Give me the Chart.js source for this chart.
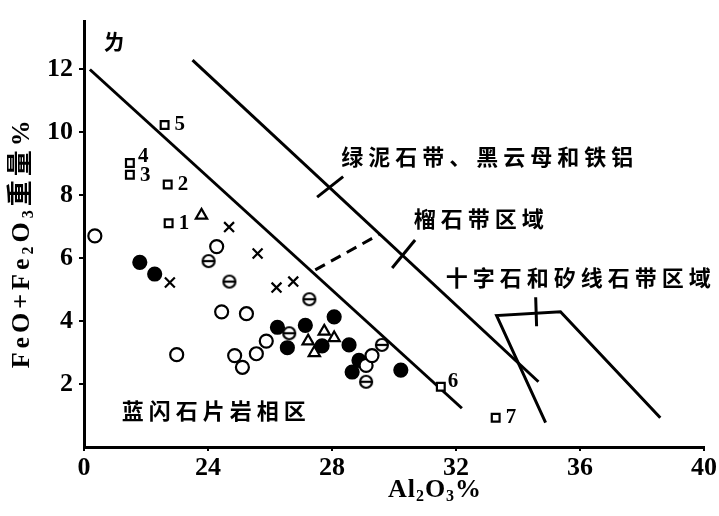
<!DOCTYPE html>
<html>
<head>
<meta charset="utf-8">
<script src="https://cdn.jsdelivr.net/npm/chart.js@4.4.1/dist/chart.umd.min.js"></script>
<style>
  html, body { margin: 0; padding: 0; background: #fff; }
  #wrap { width: 719px; height: 516px; }
</style>
</head>
<body>
<div id="wrap"><canvas id="chart" width="719" height="516"></canvas></div>
<script>
// Al2O3 % (x) vs FeO+Fe2O3 % (y)
const xTicks = [20, 24, 28, 32, 36, 40];
const xTickLabels = ['0', '24', '28', '32', '36', '40'];
const yTicks = [2, 4, 6, 8, 10, 12];

// numbered squares
const squaresX = [22.73, 22.70, 21.48, 21.48, 22.60, 31.51, 33.28];
const squaresY = [7.10, 8.33, 8.64, 9.01, 10.22, 1.91, 0.93];
const squareLabels = ['1', '2', '3', '4', '5', '6', '7'];

const trianglesX = [23.79, 27.23, 27.75, 28.07, 27.43];
const trianglesY = [7.35, 3.36, 3.67, 3.46, 2.99];

const crossX = [24.68, 22.77, 25.60, 26.21, 26.75];
const crossY = [6.98, 5.22, 6.14, 5.06, 5.25];

const filledX = [21.80, 22.28, 26.24, 26.56, 27.14, 28.07, 27.68, 28.55, 28.65, 28.87, 30.22];
const filledY = [5.86, 5.49, 3.80, 3.15, 3.86, 4.13, 3.21, 3.24, 2.38, 2.75, 2.44];

const thetaX = [24.02, 24.69, 27.27, 29.61, 29.10, 26.62];
const thetaY = [5.90, 5.25, 4.69, 3.24, 2.07, 3.61];

const openX = [20.35, 24.28, 22.99, 24.44, 25.24, 24.86, 25.11, 25.56, 25.88, 29.10, 29.29];
const openY = [6.70, 6.36, 2.93, 4.29, 4.23, 2.90, 2.53, 2.96, 3.36, 2.59, 2.90];

// zone boundaries
const boundaryAX = [20.19, 32.19];
const boundaryAY = [11.98, 1.23];
const boundaryBX = [23.50, 34.66];
const boundaryBY = [12.28, 2.07];
const dashX = [27.46, 29.55];
const dashY = [5.62, 6.76];
const trapX = [34.89, 33.31, 35.37, 38.59];
const trapY = [0.77, 4.17, 4.29, 0.93];
const tick1X = [27.52, 28.36], tick1Y = [7.93, 8.58];
const tick2X = [29.94, 30.68], tick2Y = [5.68, 6.57];
const tick3X = [34.57, 34.60], tick3Y = [4.75, 3.83];

// zone names
const zoneTexts = ['绿泥石带、黑云母和铁铝', '榴石带区域', '十字石和矽线石带区域', '蓝闪石片岩相区', 'ㄌ'];
const zoneX = [28.30, 30.64, 31.67, 21.22, 20.62];
const zoneY = [9.23, 7.25, 5.37, 1.14, 12.87];

function pts(xs, ys) {
    return xs.map(function (x, i) { return { x: x, y: ys[i] }; });
}

function lineSet(xs, ys, dash) {
    return {
        data: pts(xs, ys),
        showLine: true,
        borderColor: '#000',
        borderWidth: 3,
        borderDash: dash || [],
        pointRadius: 0,
        fill: false,
        tension: 0
    };
}

function pointSet(xs, ys, style, fillColor, radius) {
    return {
        data: pts(xs, ys),
        showLine: false,
        pointStyle: style,
        pointRadius: radius,
        pointBackgroundColor: fillColor,
        pointBorderColor: '#000',
        pointBorderWidth: 2.2
    };
}

// circle with a bar across it
var theta = document.createElement('canvas');
theta.width = 16; theta.height = 16;
var tc = theta.getContext('2d');
tc.lineWidth = 2.2;
tc.strokeStyle = '#000';
tc.fillStyle = '#fff';
tc.beginPath(); tc.arc(8, 8, 6, 0, Math.PI * 2); tc.fill(); tc.stroke();
tc.beginPath(); tc.moveTo(2.5, 8); tc.lineTo(13.5, 8); tc.stroke();

// text with subscripts: parts = [[text, isSub], ...]
function richWidth(ctx, parts, size, family, spacing) {
    var w = 0;
    parts.forEach(function (p) {
        ctx.font = 'bold ' + (p[1] ? Math.round(size * 0.62) : size) + 'px ' + family;
        w += ctx.measureText(p[0]).width + spacing * p[0].length;
    });
    return w;
}
function drawRich(ctx, parts, cx, cy, size, family, spacing) {
    var x = cx - richWidth(ctx, parts, size, family, spacing) / 2;
    ctx.textAlign = 'left';
    ctx.textBaseline = 'middle';
    parts.forEach(function (p) {
        var s = p[1] ? Math.round(size * 0.62) : size;
        ctx.font = 'bold ' + s + 'px ' + family;
        ctx.letterSpacing = spacing + 'px';
        ctx.fillText(p[0], x, cy + (p[1] ? size * 0.28 : 0));
        x += ctx.measureText(p[0]).width;
    });
    ctx.letterSpacing = '0px';
}

const SERIF = '"Liberation Serif", "DejaVu Serif", "Noto Sans CJK SC", serif';
const CJK = '"Noto Sans CJK SC", sans-serif';

const textPlugin = {
    id: 'textPlugin',
    afterDraw: function (chart) {
        var ctx = chart.ctx;
        var xs = chart.scales.x, ys = chart.scales.y;
        ctx.save();
        ctx.fillStyle = '#000';

        // square numbers
        ctx.font = 'bold 21px ' + SERIF;
        ctx.textAlign = 'left';
        ctx.textBaseline = 'middle';
        squareLabels.forEach(function (lab, i) {
            var px = xs.getPixelForValue(squaresX[i]);
            var py = ys.getPixelForValue(squaresY[i]);
            var dx = 10, dy = 0;
            if (lab === '4') { dx = 8; dy = -7; }
            if (lab === '3') { dy = 1; }
            if (lab === '6') { dx = 7; dy = -5; }
            ctx.fillText(lab, px + dx, py + dy);
        });

        // zone names
        ctx.font = 'bold 22px ' + CJK;
        ctx.letterSpacing = '5px';
        zoneTexts.forEach(function (t, i) {
            ctx.fillText(t, xs.getPixelForValue(zoneX[i]), ys.getPixelForValue(zoneY[i]));
        });
        ctx.letterSpacing = '0px';

        // axis titles
        drawRich(ctx, [['Al', 0], ['2', 1], ['O', 0], ['3', 1], ['%', 0]],
            (xs.left + xs.right) / 2 + 41, 490, 26, SERIF, 1);
        ctx.translate(22, (ys.top + ys.bottom) / 2 + 8);
        ctx.rotate(-Math.PI / 2);
        drawRich(ctx, [['FeO+Fe', 0], ['2', 1], ['O', 0], ['3', 1], ['重量%', 0]],
            0, 0, 26, SERIF, 4);
        ctx.restore();
    }
};

const ctx = document.getElementById('chart').getContext('2d');
new Chart(ctx, {
    type: 'scatter',
    data: {
        datasets: [
            pointSet(squaresX, squaresY, 'rect', '#fff', 5.5),
            pointSet(trianglesX, trianglesY, 'triangle', '#fff', 6.5),
            pointSet(crossX, crossY, 'crossRot', '#000', 7),
            pointSet(thetaX, thetaY, theta, '#fff', 7),
            pointSet(openX, openY, 'circle', '#fff', 6.5),
            pointSet(filledX, filledY, 'circle', '#000', 6.5),
            lineSet(boundaryAX, boundaryAY),
            lineSet(boundaryBX, boundaryBY),
            lineSet(dashX, dashY, [11, 7]),
            lineSet(trapX, trapY),
            lineSet(tick1X, tick1Y),
            lineSet(tick2X, tick2Y),
            lineSet(tick3X, tick3Y)
        ]
    },
    options: {
        responsive: false,
        animation: false,
        events: [],
        layout: { padding: { left: 0, top: 10, right: 14, bottom: 0 } },
        plugins: {
            legend: { display: false },
            tooltip: { enabled: false }
        },
        scales: {
            x: {
                type: 'linear',
                min: 20,
                max: 40,
                afterFit: function (s) { s.height = 69; },
                afterBuildTicks: function (s) {
                    s.ticks = xTicks.map(function (v) { return { value: v }; });
                },
                border: { display: true, color: '#000', width: 3 },
                grid: { display: true, drawOnChartArea: false, drawTicks: true, tickLength: 4, color: '#000', lineWidth: 2 },
                ticks: {
                    color: '#000',
                    padding: 2,
                    font: { family: SERIF, size: 26, weight: 'bold' },
                    callback: function (v) {
                        var i = xTicks.indexOf(v);
                        return i >= 0 ? xTickLabels[i] : '';
                    }
                }
            },
            y: {
                type: 'linear',
                min: 0,
                max: 13.5,
                afterFit: function (s) { s.width = 84; },
                afterBuildTicks: function (s) {
                    s.ticks = yTicks.map(function (v) { return { value: v }; });
                },
                border: { display: true, color: '#000', width: 3 },
                grid: { display: true, drawOnChartArea: false, drawTicks: true, tickLength: 5, color: '#000', lineWidth: 2 },
                ticks: {
                    color: '#000',
                    padding: 6,
                    font: { family: SERIF, size: 26, weight: 'bold' },
                    callback: function (v) { return String(v); }
                }
            }
        }
    },
    plugins: [textPlugin]
});
</script>
</body>
</html>
